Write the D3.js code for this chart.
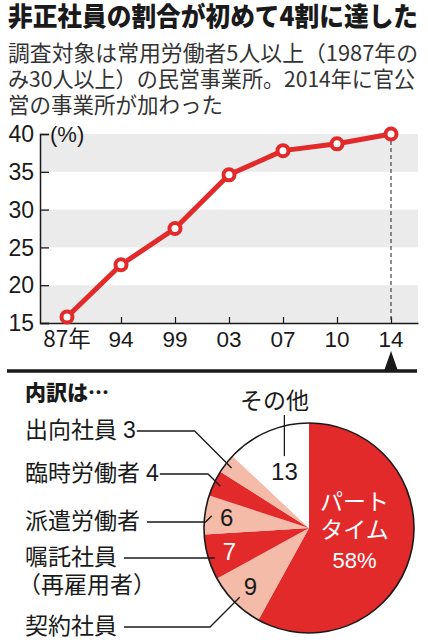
<!DOCTYPE html>
<html lang="ja">
<head>
<meta charset="utf-8">
<title>非正社員の割合が初めて4割に達した</title>
<script src="https://cdn.jsdelivr.net/npm/d3@7"></script>
<style>
  body { margin: 0; background: #fff; }
  svg { display: block; }
</style>
</head>
<body>
<script>
// non-regular workers share (%)
var years = ["87年", "94", "99", "03", "07", "10", "14"];
var rates = [15.8, 22.7, 27.5, 34.6, 37.8, 38.7, 40.0];
var yTicks = [15, 20, 25, 30, 35, 40];

// breakdown in 2014 (%)
var kinds = ["パートタイム", "契約社員", "嘱託社員", "派遣労働者", "臨時労働者", "出向社員", "その他"];
var shares = [58, 9, 7, 6, 4, 3, 13];

var W = 428, H = 640;
var jp = "'Noto Sans CJK JP', sans-serif";
var num = "'Liberation Sans Narrow', 'Liberation Sans', sans-serif";
var red = "#e22a2b", pink = "#f4bba9", ink = "#1a1a1a";

var svg = d3.select("body").append("svg")
    .attr("width", W).attr("height", H)
    .attr("viewBox", [0, 0, W, H]);

// headline + note
svg.append("text")
    .attr("x", 8).attr("y", 26)
    .attr("textLength", 410).attr("lengthAdjust", "spacingAndGlyphs")
    .attr("font-family", jp).attr("font-weight", 900).attr("font-size", 26.5)
    .attr("fill", ink)
    .text("非正社員の割合が初めて4割に達した");

var note = [
  ["調査対象は常用労働者5人以上（1987年の", 410],
  ["み30人以上）の民営事業所。2014年に官公", 407],
  ["営の事業所が加わった", null]
];
note.forEach(function(n, i) {
  var t = svg.append("text")
      .attr("x", 8).attr("y", 61 + i * 26)
      .attr("font-family", jp).attr("font-size", 21.5)
      .attr("fill", "#333")
      .text(n[0]);
  if (n[1]) t.attr("textLength", n[1]).attr("lengthAdjust", "spacingAndGlyphs");
});

// ---- line chart ----
var pL = 40, pR = 418, pT = 134, pB = 323;
var x = d3.scalePoint().domain(years).range([pL, pR]).padding(0.5);
var y = d3.scaleLinear().domain([15, 40]).range([pB, pT]);

// grey bands 15-20, 25-30, 35-40
var bands = yTicks.filter(function(d, i) { return i % 2 === 0 && i < yTicks.length - 1; });
svg.append("g").selectAll("rect")
  .data(bands)
  .join("rect")
    .attr("x", pL).attr("width", pR - pL)
    .attr("y", function(d) { return y(d + 5); })
    .attr("height", function(d) { return y(d) - y(d + 5); })
    .attr("fill", "#ebebeb");

var yAxis = d3.axisRight(y).tickValues(yTicks).tickSize(9).tickFormat("");
svg.append("g")
    .attr("transform", `translate(${pL},0)`)
    .call(yAxis)
    .call(function(g) { g.select(".domain").attr("stroke", ink).attr("stroke-width", 1.5); })
    .call(function(g) { g.selectAll(".tick line").attr("stroke", ink).attr("stroke-width", 1.3); });

svg.append("g").selectAll("text")
  .data(yTicks)
  .join("text")
    .attr("x", 34).attr("y", function(d) { return y(d); })
    .attr("dy", "0.36em")
    .attr("text-anchor", "end")
    .attr("font-family", num).attr("font-size", 23)
    .attr("fill", ink)
    .text(function(d) { return d; });

svg.append("text")
    .attr("x", 50).attr("y", pT).attr("dy", "0.36em")
    .attr("font-family", num).attr("font-size", 22)
    .attr("fill", ink)
    .text("(%)");

var xAxis = d3.axisTop(x).tickSize(6).tickSizeOuter(0).tickFormat("");
svg.append("g")
    .attr("transform", `translate(0,${pB})`)
    .call(xAxis)
    .call(function(g) { g.select(".domain").attr("stroke", ink).attr("stroke-width", 1.5); })
    .call(function(g) { g.selectAll(".tick line").attr("stroke", ink).attr("stroke-width", 1.2); });

svg.append("g").selectAll("text")
  .data(years)
  .join("text")
    .attr("x", function(d) { return x(d); })
    .attr("y", 347)
    .attr("text-anchor", "middle")
    .attr("font-family", function(d) { return /年/.test(d) ? jp : num; })
    .attr("font-size", 22.5)
    .attr("fill", ink)
    .text(function(d) { return d; });

// dashed drop from the latest point
var last = years.length - 1;
svg.append("line")
    .attr("x1", x(years[last])).attr("x2", x(years[last]))
    .attr("y1", y(rates[last]) + 7).attr("y2", pB)
    .attr("stroke", "#333").attr("stroke-width", 1.1)
    .attr("stroke-dasharray", "4,3");

var pts = years.map(function(d, i) { return [x(d), y(rates[i])]; });
svg.append("path")
    .datum(pts)
    .attr("d", d3.line())
    .attr("fill", "none")
    .attr("stroke", red).attr("stroke-width", 5)
    .attr("stroke-linejoin", "round");

svg.append("g").selectAll("circle")
  .data(pts)
  .join("circle")
    .attr("cx", function(d) { return d[0]; })
    .attr("cy", function(d) { return d[1]; })
    .attr("r", 5.5)
    .attr("fill", "#fff")
    .attr("stroke", red).attr("stroke-width", 4);

// separator with pointer to 2014
svg.append("line")
    .attr("x1", 7).attr("x2", 417).attr("y1", 371).attr("y2", 371)
    .attr("stroke", ink).attr("stroke-width", 3.5);
var px = x(years[last]);
svg.append("path")
    .attr("d", `M${px - 7},371L${px + 7},371L${px},351Z`)
    .attr("fill", ink);

// ---- pie ----
svg.append("text")
    .attr("x", 25).attr("y", 400)
    .attr("font-family", jp).attr("font-weight", 900).attr("font-size", 21)
    .attr("fill", ink)
    .text("内訳は…");

var cx = 309, cy = 528, R = 105;
var color = d3.scaleOrdinal()
    .domain(kinds)
    .range([red, pink, red, pink, red, pink, "#fff"]);

var pie = d3.pie().sort(null).value(function(d, i) { return shares[i]; });
var arcs = pie(kinds);
var arc = d3.arc().innerRadius(0).outerRadius(R);
var at = function(r) { return d3.arc().innerRadius(r).outerRadius(r); };

var gp = svg.append("g").attr("transform", `translate(${cx},${cy})`);
gp.selectAll("path")
  .data(arcs)
  .join("path")
    .attr("d", arc)
    .attr("fill", function(d) { return color(d.data); });
gp.append("circle")
    .attr("r", R).attr("fill", "none")
    .attr("stroke", ink).attr("stroke-width", 1.6);

// values inside the smaller slices
var inside = ["契約社員", "嘱託社員", "派遣労働者"];
arcs.filter(function(d) { return inside.indexOf(d.data) >= 0; }).forEach(function(d) {
  var c = at(83).centroid(d);
  gp.append("text")
      .attr("x", c[0]).attr("y", c[1]).attr("dy", "0.36em")
      .attr("text-anchor", "middle")
      .attr("font-family", num).attr("font-size", 24)
      .attr("fill", color(d.data) === red ? "#fff" : ink)
      .text(d.value);
});

// part-time label
var c0 = at(47).centroid(arcs[0]);
[["パート", jp, 23, -30], ["タイム", jp, 23, -2], [arcs[0].value + "%", num, 22, 28]].forEach(function(l) {
  gp.append("text")
      .attr("x", c0[0]).attr("y", c0[1] + l[3])
      .attr("text-anchor", "middle")
      .attr("font-family", l[1]).attr("font-size", l[2])
      .attr("fill", "#fff")
      .text(l[0]);
});

// other
var dOther = arcs[arcs.length - 1];
var c6 = at(62).centroid(dOther);
gp.append("text")
    .attr("x", c6[0]).attr("y", c6[1]).attr("dy", "0.36em")
    .attr("text-anchor", "middle")
    .attr("font-family", num).attr("font-size", 24)
    .attr("fill", ink)
    .text(dOther.value);
gp.append("line")
    .attr("x1", c6[0]).attr("x2", c6[0])
    .attr("y1", 415 - cy).attr("y2", c6[1] - 15)
    .attr("stroke", ink).attr("stroke-width", 1.3);
svg.append("text")
    .attr("x", cx + c6[0] - 10).attr("y", 409)
    .attr("text-anchor", "middle")
    .attr("font-family", jp).attr("font-size", 23)
    .attr("fill", ink)
    .text(dOther.data);

// left-hand labels with leader lines
var labelY = { "出向社員": 431, "臨時労働者": 474, "派遣労働者": 522, "嘱託社員": 558, "契約社員": 627 };
var valueOutside = ["出向社員", "臨時労働者"];
arcs.filter(function(d) { return labelY[d.data] !== undefined; }).forEach(function(d) {
  var ly = labelY[d.data];
  var t = svg.append("text")
      .attr("x", 25).attr("y", ly + 7)
      .attr("font-family", jp).attr("font-size", 23)
      .attr("fill", ink);
  t.append("tspan").text(d.data);
  if (valueOutside.indexOf(d.data) >= 0) {
    t.append("tspan").attr("font-family", num).attr("dx", 6).text(d.value);
  }
  var x0 = 25 + t.node().getComputedTextLength() + 7;
  var a = at(98).centroid(d);
  var ax = cx + a[0], ay = cy + a[1];
  var elbow = Math.abs(ay - ly) < 6 ? ax : ax - Math.abs(ay - ly);
  if (Math.abs(ay - ly) < 6) ay = ly;
  svg.append("path")
      .attr("d", `M${x0},${ly}L${elbow},${ly}L${ax},${ay}`)
      .attr("fill", "none")
      .attr("stroke", ink).attr("stroke-width", 1.3);
  if (d.data === "嘱託社員") {
    svg.append("text")
        .attr("x", 18).attr("y", ly + 35)
        .attr("font-family", jp).attr("font-size", 23)
        .attr("fill", ink)
        .text("（再雇用者）");
  }
});
</script>
</body>
</html>
